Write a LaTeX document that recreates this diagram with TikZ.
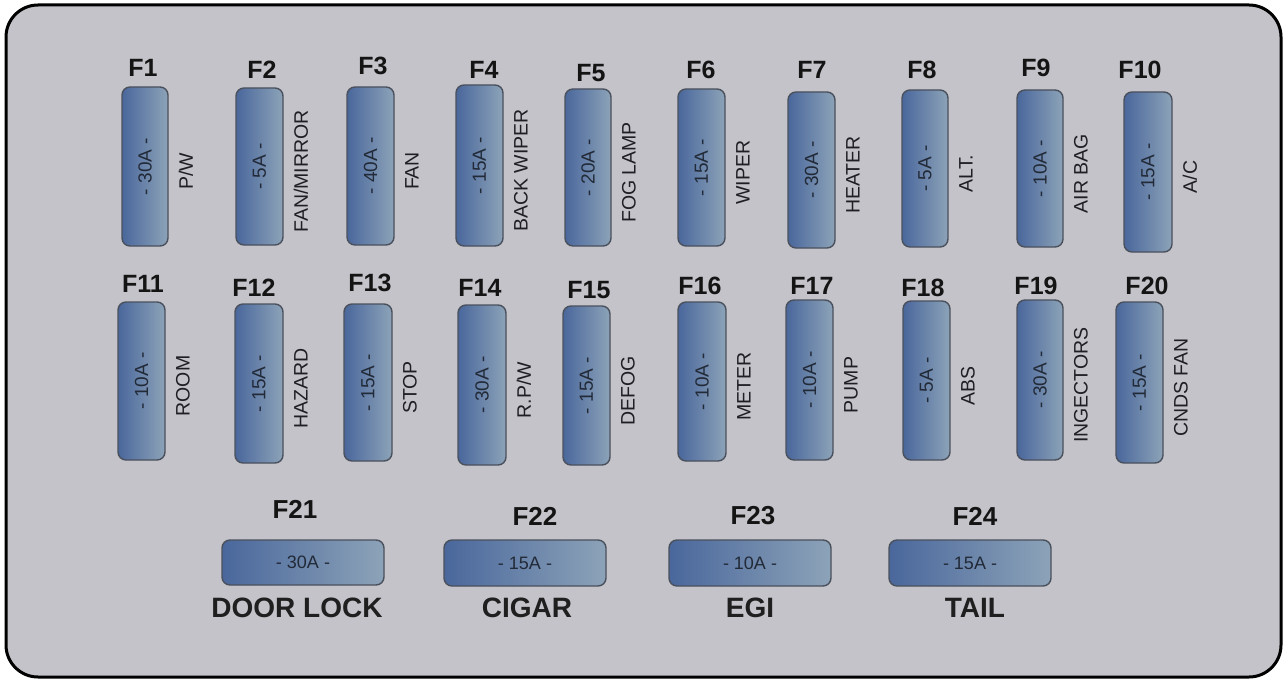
\documentclass[tikz,border=0pt]{standalone}
\usepackage{fontspec}
\setmainfont{Liberation Sans}
\definecolor{panel}{HTML}{C3C3C9}
\definecolor{fuseL}{HTML}{4A679C}
\definecolor{fuseR}{HTML}{8CA3B8}
\definecolor{fuseB}{HTML}{4A505C}
\definecolor{amptxt}{HTML}{222A38}
\definecolor{sidetxt}{HTML}{1E1E24}
\tikzset{
  fusebox/.style={draw=fuseB, line width=1.4pt, rounded corners=8pt, left color=fuseL, right color=fuseR, inner sep=0pt},
  flab/.style={font=\fontsize{25}{25}\selectfont\bfseries, text=black!92, inner sep=0pt},
  blab/.style={font=\fontsize{26}{26}\selectfont\bfseries, text=black!92, inner sep=0pt},
  ampv/.style={font=\fontsize{19}{19}\selectfont, text=amptxt, rotate=90, inner sep=0pt},
  amph/.style={font=\fontsize{18}{18}\selectfont, text=amptxt, inner sep=0pt},
  sidev/.style={font=\fontsize{19.5}{19.5}\selectfont, text=sidetxt, rotate=90, inner sep=0pt},
  namelab/.style={font=\fontsize{28}{28}\selectfont\bfseries, text=black!88, inner sep=0pt},
}
% vertical fuse: name, xl, yt, xr, yb, label, label centre, amp, side text
\newcommand\vfuse[9]{%
  \node[fusebox, minimum width={(#4-#2)*1pt}, minimum height={(#5-#3)*1pt}] (#1) at ({(#2+#4)/2},{(#3+#5)/2}) {};
  \node[ampv] (#1a) at (#1.center) {- #8 -};
  \node[flab] (#1l) at (#7) {#6};
  \node[sidev] (#1s) at ({#4+18},{(#3+#5)/2+5}) {#9};
}
% horizontal fuse: name, xl, yt, xr, yb, label, label centre, amp, unused
\newcommand\hfuse[9]{%
  \node[fusebox, minimum width={(#4-#2)*1pt}, minimum height={(#5-#3)*1pt}] (#1) at ({(#2+#4)/2},{(#3+#5)/2}) {};
  \node[amph] (#1a) at (#1.center) {- #8 -};
  \node[blab] (#1l) at (#7) {#6};
}
\begin{document}
\begin{tikzpicture}[x=1pt,y=-1pt]
\useasboundingbox (0,0) rectangle (1287,682);
\fill[white] (0,0) rectangle (1287,682);
\draw[line width=3pt, rounded corners=32pt, fill=panel] (6,5) rectangle (1281,677);
% row 1
\vfuse{f1}{122}{87}{168}{246}{F1}{143,68}{30A}{P/W}
\vfuse{f2}{236}{88}{283}{245}{F2}{262,70}{5A}{FAN/MIRROR}
\vfuse{f3}{347}{87}{394}{245}{F3}{373,66}{40A}{FAN}
\vfuse{f4}{456}{85}{503}{246}{F4}{484,70}{15A}{BACK WIPER}
\vfuse{f5}{565}{89}{611}{246}{F5}{591,73}{20A}{FOG LAMP}
\vfuse{f6}{678}{89}{725}{246}{F6}{701,70}{15A}{WIPER}
\vfuse{f7}{788}{92}{835}{248}{F7}{812,70}{30A}{HEATER}
\vfuse{f8}{902}{90}{948}{247}{F8}{922,70}{5A}{ALT.}
\vfuse{f9}{1017}{90}{1063}{247}{F9}{1036,68}{10A}{AIR BAG}
\vfuse{f10}{1124}{92}{1172}{252}{F10}{1140,70}{15A}{A/C}
% row 2
\vfuse{f11}{118}{302}{165}{460}{F11}{143,284}{10A}{ROOM}
\vfuse{f12}{235}{304}{283}{463}{F12}{254,288}{15A}{HAZARD}
\vfuse{f13}{344}{304}{392}{461}{F13}{370,283}{15A}{STOP}
\vfuse{f14}{458}{305}{506}{465}{F14}{480,288}{30A}{R.P/W}
\vfuse{f15}{563}{306}{610}{465}{F15}{589,290}{15A}{DEFOG}
\vfuse{f16}{678}{302}{726}{461}{F16}{700,286}{10A}{METER}
\vfuse{f17}{786}{300}{833}{460}{F17}{812,286}{10A}{PUMP}
\vfuse{f18}{903}{301}{950}{460}{F18}{923,288}{5A}{ABS}
\vfuse{f19}{1017}{300}{1063}{460}{F19}{1036,286}{30A}{INGECTORS}
\vfuse{f20}{1116}{302}{1163}{463}{F20}{1147,286}{15A}{CNDS FAN}
% row 3
\hfuse{f21}{222}{540}{384}{585}{F21}{295,509}{30A}{}
\hfuse{f22}{444}{540}{606}{586}{F22}{535,516}{15A}{}
\hfuse{f23}{669}{540}{831}{586}{F23}{753,516}{10A}{}
\hfuse{f24}{889}{540}{1051}{586}{F24}{975,516}{15A}{}
\node[namelab] (n21) at (297,608) {DOOR LOCK};
\node[namelab] (n22) at (527,608) {CIGAR};
\node[namelab] (n23) at (750,608) {EGI};
\node[namelab] (n24) at (975,608) {TAIL};
\end{tikzpicture}
\end{document}
